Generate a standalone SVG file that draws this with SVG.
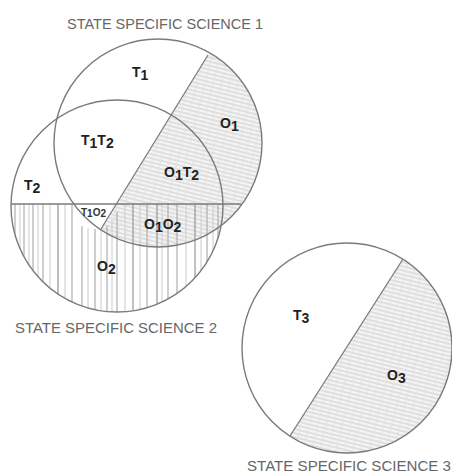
<svg xmlns="http://www.w3.org/2000/svg" width="452" height="475" viewBox="0 0 452 475">
<style>
.ring{fill:none;stroke:#7a7a7a;stroke-width:1.4}
.div{stroke:#7a7a7a;stroke-width:1.3;fill:none}
.vh{stroke:#a8a8a8;stroke-width:1.1}
.title{font-family:"Liberation Sans",Arial,sans-serif;font-size:15px;fill:#666}
.lb{font-family:"Liberation Sans",Arial,sans-serif;font-weight:bold;font-size:14px;fill:#222}
.sub{font-size:14px}
.sm{font-family:"Liberation Sans",Arial,sans-serif;font-weight:bold;font-size:10px;fill:#333}
</style>
<defs>
<pattern id="diag" patternUnits="userSpaceOnUse" width="8" height="4" patternTransform="rotate(14)">
<rect width="8" height="4" fill="#f5f5f5"/>
<line x1="0" y1="1" x2="8" y2="1" stroke="#c4c4c4" stroke-width="0.9"/>
<circle cx="3" cy="3" r="0.5" fill="#cccccc"/>
</pattern>
<clipPath id="c1"><circle cx="158" cy="143" r="104"/></clipPath>
<clipPath id="c2low"><rect x="0" y="204" width="460" height="126"/></clipPath>
<clipPath id="c2"><circle cx="117" cy="206" r="106"/></clipPath>
<clipPath id="c3"><circle cx="347" cy="348" r="105"/></clipPath>
</defs>
<rect width="452" height="475" fill="#fff"/>

<g id="science1">
<g clip-path="url(#c1)">
<polygon points="262,-32 46,320 400,320 400,-32" fill="url(#diag)"/>
</g>
</g>

<g id="science2">
<g clip-path="url(#c2)">
<g clip-path="url(#c2low)">
<g class="vh">
<line x1="15" y1="204" x2="15" y2="320"/>
<line x1="20" y1="204" x2="20" y2="320" stroke="#cfcfcf"/>
<line x1="24" y1="204" x2="24" y2="320"/>
<line x1="29" y1="204" x2="29" y2="320" stroke="#cfcfcf"/>
<line x1="33" y1="204" x2="33" y2="320"/>
<line x1="38" y1="204" x2="38" y2="320" stroke="#d0d0d0"/>
<line x1="43" y1="204" x2="43" y2="320"/>
<line x1="50" y1="204" x2="50" y2="320" stroke="#d0d0d0"/>
<line x1="58" y1="204" x2="58" y2="320" stroke="#888"/>
<line x1="65" y1="204" x2="65" y2="320" stroke="#d0d0d0"/>
<line x1="72" y1="204" x2="72" y2="320"/>
<line x1="82" y1="226" x2="82" y2="320"/>
<line x1="88" y1="228" x2="88" y2="320" stroke="#d0d0d0"/>
<line x1="95" y1="229" x2="95" y2="320"/>
<line x1="101" y1="230" x2="101" y2="320" stroke="#d0d0d0"/>
<line x1="107" y1="226" x2="107" y2="320"/>
<line x1="112" y1="220" x2="112" y2="320" stroke="#d0d0d0"/>
<line x1="117" y1="212" x2="117" y2="320"/>
<line x1="125" y1="204" x2="125" y2="320" stroke="#d0d0d0"/>
<line x1="133" y1="204" x2="133" y2="320" stroke="#8e8e8e"/>
<line x1="140" y1="204" x2="140" y2="320" stroke="#d0d0d0"/>
<line x1="147" y1="204" x2="147" y2="320"/>
<line x1="157" y1="204" x2="157" y2="320" stroke="#8e8e8e"/>
<line x1="162" y1="204" x2="162" y2="320" stroke="#d0d0d0"/>
<line x1="168" y1="204" x2="168" y2="320"/>
<line x1="177" y1="204" x2="177" y2="320"/>
<line x1="186" y1="204" x2="186" y2="320" stroke="#d0d0d0"/>
<line x1="195" y1="204" x2="195" y2="320" stroke="#8e8e8e"/>
<line x1="201" y1="204" x2="201" y2="320" stroke="#d0d0d0"/>
<line x1="207" y1="204" x2="207" y2="320"/>
<line x1="213" y1="204" x2="213" y2="320" stroke="#d0d0d0"/>
<line x1="218" y1="204" x2="218" y2="320"/>
</g>
</g>
</g>
<circle class="ring" cx="117" cy="206" r="106"/>
<line class="div" x1="11" y1="204" x2="241" y2="204"/>
</g>

<g id="science1-outline">
<circle class="ring" cx="158" cy="143" r="104"/>
<line class="div" x1="208" y1="55" x2="101" y2="229"/>
</g>

<g id="science3">
<g clip-path="url(#c3)">
<polygon points="460,170 233,525 460,525" fill="url(#diag)"/>
</g>
<circle class="ring" cx="347" cy="348" r="105"/>
<line class="div" x1="403" y1="259" x2="290" y2="436"/>
</g>

<g id="labels">
<text class="lb" x="132" y="77">T<tspan class="sub" dy="3">1</tspan></text>
<text class="lb" x="220" y="128">O<tspan class="sub" dy="3">1</tspan></text>
<text class="lb" x="81" y="145">T<tspan class="sub" dy="3">1</tspan><tspan dy="-3">T</tspan><tspan class="sub" dy="3">2</tspan></text>
<text class="lb" x="164" y="177">O<tspan class="sub" dy="3">1</tspan><tspan dy="-3">T</tspan><tspan class="sub" dy="3">2</tspan></text>
<text class="lb" x="24" y="190">T<tspan class="sub" dy="3">2</tspan></text>
<text class="sm" x="81" y="216">T<tspan dy="1">1</tspan><tspan dy="-1">O</tspan><tspan dy="1">2</tspan></text>
<text class="lb" x="144" y="229">O<tspan class="sub" dy="3">1</tspan><tspan dy="-3">O</tspan><tspan class="sub" dy="3">2</tspan></text>
<text class="lb" x="97" y="271">O<tspan class="sub" dy="3">2</tspan></text>
<text class="lb" x="293" y="320">T<tspan class="sub" dy="3">3</tspan></text>
<text class="lb" x="387" y="380">O<tspan class="sub" dy="3">3</tspan></text>
</g>

<g id="titles">
<text class="title" x="67" y="29" textLength="196" lengthAdjust="spacingAndGlyphs">STATE SPECIFIC SCIENCE 1</text>
<text class="title" x="15" y="333" textLength="202" lengthAdjust="spacingAndGlyphs">STATE SPECIFIC SCIENCE 2</text>
<text class="title" x="247" y="471" textLength="204" lengthAdjust="spacingAndGlyphs">STATE SPECIFIC SCIENCE 3</text>
</g>
</svg>
